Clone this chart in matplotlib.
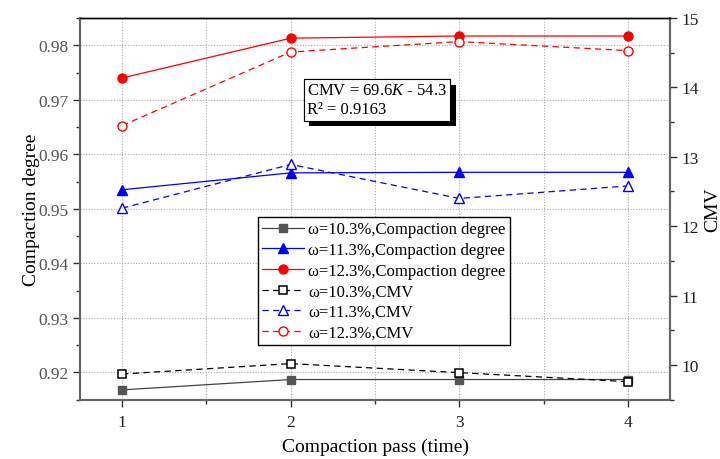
import matplotlib
matplotlib.use("Agg")
import matplotlib.pyplot as plt
import matplotlib.patheffects as pe
from matplotlib.ticker import MultipleLocator

plt.rcParams['font.family'] = ['Liberation Serif', 'DejaVu Serif']
plt.rcParams['mathtext.fontset'] = 'custom'
plt.rcParams['mathtext.rm'] = 'Liberation Serif'
plt.rcParams['mathtext.it'] = 'Liberation Serif:italic'

passes = [1, 2, 3, 4]
cd_103 = [0.9168, 0.9187, 0.9187, 0.9187]
cd_113 = [0.9535, 0.9566, 0.9567, 0.9567]
cd_123 = [0.9740, 0.9813, 0.9817, 0.9817]
cmv_103 = [9.87, 10.02, 9.89, 9.76]
cmv_113 = [12.26, 12.89, 12.40, 12.58]
cmv_123 = [13.45, 14.51, 14.66, 14.53]
labels = ['ω=10.3%,Compaction degree', 'ω=11.3%,Compaction degree', 'ω=12.3%,Compaction degree',
          'ω=10.3%,CMV', 'ω=11.3%,CMV', 'ω=12.3%,CMV']
fit_text = 'CMV = 69.6$K$ - 54.3\nR² = 0.9163'

fig = plt.figure(figsize=(7.2, 4.6), dpi=100)
ax = fig.add_axes([80/720, 1-400.7/460, 590/720, 381.7/460])
ax2 = ax.twinx()

gray = '#444444'
ms = 6.5
dash = (0, (5, 3.5))
h1, = ax.plot(passes, cd_103, '-', color=gray, lw=0.9, marker='s', ms=ms-0.5, mfc='#555555', mec='#555555', label=labels[0])
h2, = ax.plot(passes, cd_113, '-', color='#0000ff', lw=0.9, marker='^', ms=ms+1, mfc='#0000ff', mec='#0000ff', label=labels[1])
h3, = ax.plot(passes, cd_123, '-', color='#ff0000', lw=0.9, marker='o', ms=ms, mfc='#ff0000', mec='#ff0000', label=labels[2])
h4, = ax2.plot(passes, cmv_103, color='black', ls=dash, lw=0.9, marker='s', ms=ms-0.5, mfc='white', mec='black', mew=1.1, label=labels[3])
h5, = ax2.plot(passes, cmv_113, color='#0000ff', ls=dash, lw=0.9, marker='^', ms=ms+1, mfc='white', mec='#0000ff', mew=1.0, label=labels[4])
h6, = ax2.plot(passes, cmv_123, color='#ff0000', ls=dash, lw=0.9, marker='o', ms=ms, mfc='white', mec='#ff0000', mew=1.0, label=labels[5])

ax.set_xlim(0.75, 4.25)
ax.set_ylim(0.915, 0.985)
ax2.set_ylim(9.5, 15)
ax.xaxis.set_major_locator(MultipleLocator(1))
ax.xaxis.set_minor_locator(MultipleLocator(0.5))
ax.yaxis.set_minor_locator(MultipleLocator(0.005))
ax2.yaxis.set_major_locator(MultipleLocator(1))
ax2.yaxis.set_minor_locator(MultipleLocator(0.5))
ax.set_yticks([0.92, 0.93, 0.94, 0.95, 0.96, 0.97, 0.98])
ax.set_yticklabels(['0.92', '0.93', '0.94', '0.95', '0.96', '0.97', '0.98'])

grid_kw = dict(color='#aaaaaa', lw=0.8, ls=(0, (1, 1.5)))
ax.grid(True, which='major', axis='y', **grid_kw)
ax.grid(True, which='both', axis='x', **grid_kw)
ax.set_axisbelow(True)

for a in (ax, ax2):
    for s in ('left', 'right', 'bottom'):
        a.spines[s].set_color('#666666')
        a.spines[s].set_linewidth(1.5)
    a.spines['top'].set_color('black')
    a.spines['top'].set_linewidth(1.0)

ax.tick_params(axis='both', which='major', direction='out', length=5, width=1, color='#333333', labelsize=12.5)
ax.tick_params(axis='both', which='minor', direction='out', length=3, width=1, color='#333333')
ax.tick_params(axis='y', labelcolor='#555555', pad=3)
ax.tick_params(axis='x', labelcolor='#222222', pad=5)
ax2.tick_params(axis='y', which='major', direction='out', length=5, width=1, color='#333333', labelsize=12.5, labelcolor='#222222', pad=3)
ax2.tick_params(axis='y', which='minor', direction='out', length=3, width=1, color='#333333')

ax.set_xlabel('Compaction pass (time)', fontsize=14, labelpad=6)
ax.set_ylabel('Compaction degree', fontsize=14, labelpad=-1)
ax2.set_ylabel('CMV', fontsize=14, labelpad=4, rotation=90)

t = ax2.text((307-80)/590, (400.7-83.5)/381.7, fit_text, transform=ax2.transAxes, fontsize=12,
             ha='left', va='top', linespacing=1.25,
             bbox=dict(boxstyle='square,pad=0.2', fc='white', ec='black', lw=0.8))
t.get_bbox_patch().set_path_effects([pe.withSimplePatchShadow(offset=(4, -4), shadow_rgbFace='black', alpha=1.0), pe.Normal()])

leg = ax2.legend(handles=[h1, h2, h3, h4, h5, h6], loc='upper left',
                 bbox_to_anchor=((258.3-80)/590, (400.7-218.3)/381.7), borderaxespad=0,
                 fontsize=12, frameon=True, fancybox=False, framealpha=1, edgecolor='black',
                 handlelength=2.5, handletextpad=0.25, labelspacing=0.28, borderpad=0.25,
                 alignment='left')
leg.get_frame().set_linewidth(1.0)

fig.savefig('out.png', dpi=100)
